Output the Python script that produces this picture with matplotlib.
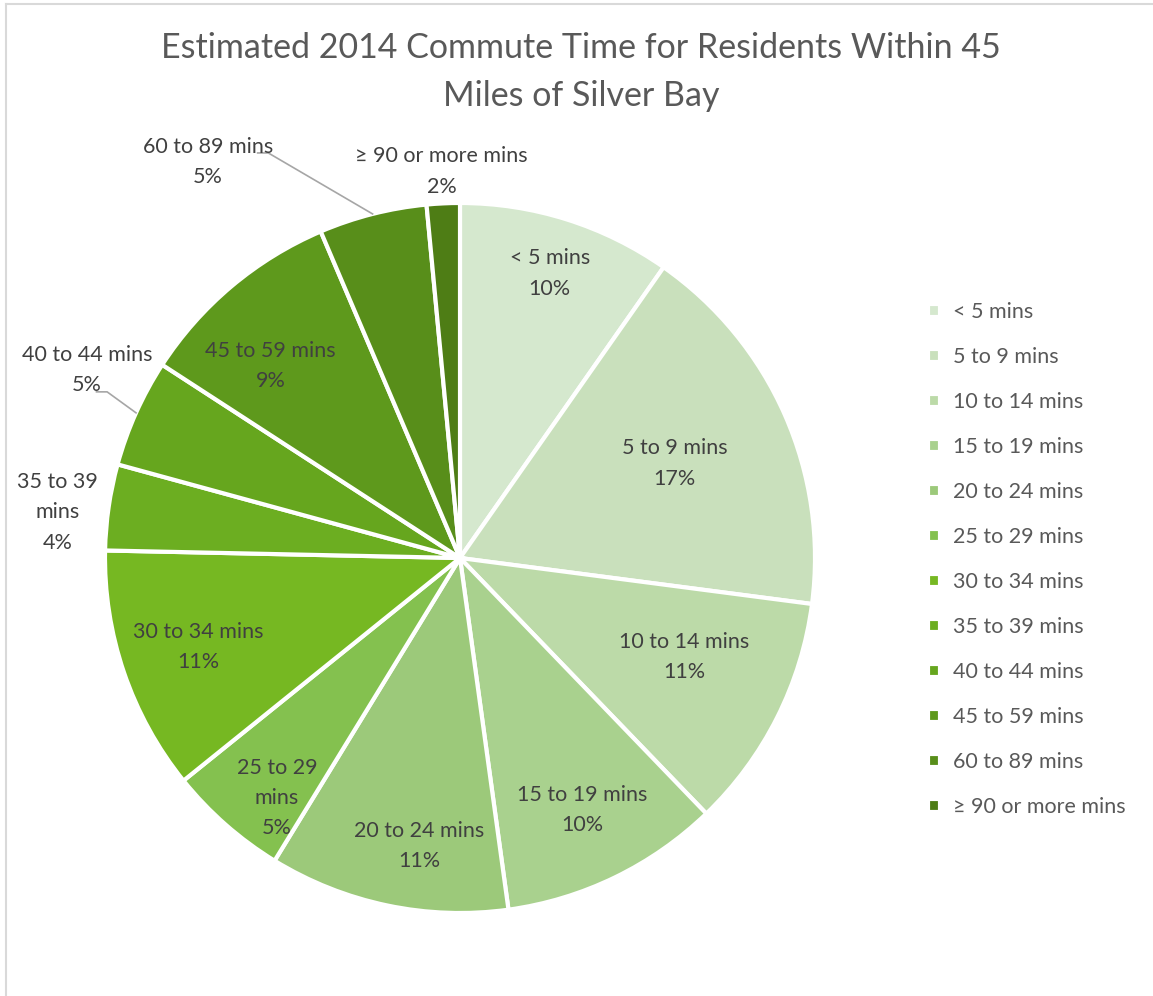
import numpy as np
import matplotlib
matplotlib.use("Agg")
import matplotlib.pyplot as plt
from matplotlib.lines import Line2D

plt.rcParams['font.family'] = ['Lato', 'DejaVu Sans']

# data (share of residents, %)
categories = ["< 5 mins", "5 to 9 mins", "10 to 14 mins", "15 to 19 mins",
              "20 to 24 mins", "25 to 29 mins", "30 to 34 mins", "35 to 39 mins",
              "40 to 44 mins", "45 to 59 mins", "60 to 89 mins", "\u2265 90 or more mins"]
values = [9.7, 17.3, 10.7, 10.0, 10.9, 5.45, 11.1, 3.9, 4.9, 9.4, 4.9, 1.5]
colors = ["#d5e8ce", "#c9e0bc", "#bcdaa8", "#a9d18e", "#9cc97a", "#84c14f",
          "#76b822", "#6cae21", "#66a61e", "#5e991c", "#588e1a", "#4e7d15"]

# label layout: radius of each label (pie radius = 1), None = placed outside
label_r = [0.84, 0.66, 0.69, 0.79, 0.82, 0.85, 0.78, 1.14, None, 0.76, None, 1.09]
# small angular nudges (deg) like Excel's best-fit placement
label_nudge = {2: 3, 4: 3.8, 5: 4.0, 7: 1.8, 9: 4.5}
label_text = {5: "25 to 29\nmins", 7: "35 to 39\nmins"}
# outside labels with leader lines: text pos, elbow pos
outside = {8: ((-1.051, 0.53), (-0.994, 0.468)),
           10: ((-0.71, 1.115), (-0.54, 1.141))}

W, H = 1153, 996
fig = plt.figure(figsize=(W/100, H/100), dpi=100)
cx, cy, R = 460, 558, 355
ax = fig.add_axes([(cx-R)/W, 1-(cy+R)/H, 2*R/W, 2*R/H])
wedges, _ = ax.pie(values, colors=colors, startangle=90, counterclock=False,
                   wedgeprops=dict(edgecolor="white", linewidth=3))
ax.set_xlim(-1, 1)
ax.set_ylim(-1, 1)
ax.set_aspect("equal")
ax.axis("off")

total = sum(values)
txt_col = "#404040"
fs = 15.5
for i, w in enumerate(wedges):
    mid = np.deg2rad((w.theta1 + w.theta2) / 2)
    name = label_text.get(i, categories[i])
    s = f"{name}\n{values[i]/total*100:.0f}%"
    if i in outside:
        (tx, ty), (ex, ey) = outside[i]
        px, py = np.cos(mid), np.sin(mid)
        ax.text(tx, ty, s, ha="center", va="center", fontsize=fs,
                color=txt_col, linespacing=1.64)
        ax.plot([ex - 0.03, ex, px], [ey, ey, py], color="#a6a6a6",
                lw=1.2, clip_on=False)
        continue
    r = label_r[i]
    a = mid + np.deg2rad(label_nudge.get(i, 0))
    ax.text(r*np.cos(a), r*np.sin(a), s, ha="center", va="center",
            fontsize=fs, color=txt_col, linespacing=1.64)

fig.text(0.504, 1-72/H, "Estimated 2014 Commute Time for Residents Within 45\nMiles of Silver Bay",
         ha="center", va="center", fontsize=24.5, color="#595959", linespacing=1.6)

fig.legend(wedges, categories, loc="upper left",
           bbox_to_anchor=(928/W, 1-302/H), frameon=False, fontsize=fs,
           labelcolor="#595959", handlelength=0.55, handleheight=0.55,
           handletextpad=0.6, labelspacing=1.16, borderpad=0, borderaxespad=0)

# chart frame
fig.add_artist(Line2D([6/W, 6/W], [0, 1-4/H], color="#d9d9d9", lw=1.5))
fig.add_artist(Line2D([6/W, 1], [1-4/H, 1-4/H], color="#d9d9d9", lw=1.5))

fig.savefig("out.png", dpi=100, facecolor="white")
